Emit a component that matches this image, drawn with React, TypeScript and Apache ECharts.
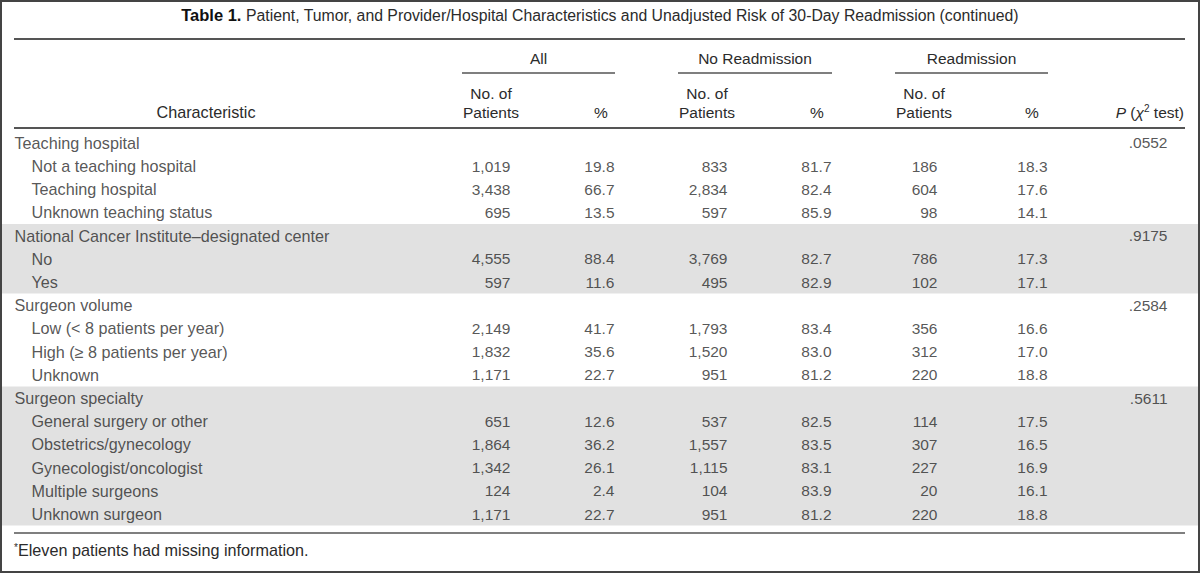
import React, { useEffect, useRef } from "react";
import * as echarts from "echarts";

const characteristics = [
  "Teaching hospital",
  "Not a teaching hospital",
  "Teaching hospital",
  "Unknown teaching status",
  "National Cancer Institute–designated center",
  "No",
  "Yes",
  "Surgeon volume",
  "Low (< 8 patients per year)",
  "High (≥ 8 patients per year)",
  "Unknown",
  "Surgeon specialty",
  "General surgery or other",
  "Obstetrics/gynecology",
  "Gynecologist/oncologist",
  "Multiple surgeons",
  "Unknown surgeon",
];
const isGroupRow = [1, 0, 0, 0, 1, 0, 0, 1, 0, 0, 0, 1, 0, 0, 0, 0, 0];
// shaded blocks: [first row, last row]
const shadedBlocks = [
  [4, 6],
  [11, 16],
];

const allPatients = [null, 1019, 3438, 695, null, 4555, 597, null, 2149, 1832, 1171, null, 651, 1864, 1342, 124, 1171];
const allPct = [null, 19.8, 66.7, 13.5, null, 88.4, 11.6, null, 41.7, 35.6, 22.7, null, 12.6, 36.2, 26.1, 2.4, 22.7];
const noReadmPatients = [null, 833, 2834, 597, null, 3769, 495, null, 1793, 1520, 951, null, 537, 1557, 1115, 104, 951];
const noReadmPct = [null, 81.7, 82.4, 85.9, null, 82.7, 82.9, null, 83.4, 83.0, 81.2, null, 82.5, 83.5, 83.1, 83.9, 81.2];
const readmPatients = [null, 186, 604, 98, null, 786, 102, null, 356, 312, 220, null, 114, 307, 227, 20, 220];
const readmPct = [null, 18.3, 17.6, 14.1, null, 17.3, 17.1, null, 16.6, 17.0, 18.8, null, 17.5, 16.5, 16.9, 16.1, 18.8];
const pValues = [0.0552, null, null, null, 0.9175, null, null, 0.2584, null, null, null, 0.5611, null, null, null, null, null];

const groupHeaders = ["All", "No Readmission", "Readmission"];
const titleBold = "Table 1.";
const titleText = "Patient, Tumor, and Provider/Hospital Characteristics and Unadjusted Risk of 30-Day Readmission (continued)";
const footnote = "Eleven patients had missing information.";

const FONT = "'Liberation Sans', Arial, sans-serif";
const FS = 15.5;
const FS_CHAR = 16.2;
const TXT = "#2b2b2b";
const RULE = "#555555";
const SHADE = "#e1e1e1";

const fmtInt = (v: number) => v.toLocaleString("en-US");
const fmtPct = (v: number) => v.toFixed(1);
const fmtP = (v: number) => v.toFixed(4).replace(/^0/, "");

export default function App() {
  const ref = useRef<HTMLDivElement>(null);
  useEffect(() => {
    if (!ref.current) return;
    const chart = echarts.init(ref.current, null, { renderer: "svg" });
    const W = 1200;
    const rowTop = 131.2;
    const rowH = 23.2;
    const n = characteristics.length;
    const L = 14;
    const R = 1185;

    const groupSpans = [
      [462, 615],
      [678, 832],
      [895, 1048],
    ];
    const patientCenters = [491, 707, 924];
    const pctCenters = [601, 817, 1032];

    const colRight = {
      allN: 511,
      allP: 615,
      noN: 728,
      noP: 832,
      reN: 938,
      reP: 1048,
      p: 1168,
    };

    const textSeries = (x: number, vals: (number | null)[], fmt: (v: number) => string) => ({
      type: "scatter",
      symbolSize: 1,
      itemStyle: { color: "rgba(0,0,0,0)" },
      silent: true,
      z: 5,
      data: vals
        .map((v, i) => (v === null ? null : [x, i, fmt(v)]))
        .filter((d) => d !== null),
      label: {
        show: true,
        position: "left",
        distance: 0,
        formatter: (p: any) => p.value[2],
        fontFamily: FONT,
        fontSize: FS,
        color: TXT,
      },
    });

    const charSeries = {
      type: "scatter",
      symbolSize: 1,
      itemStyle: { color: "rgba(0,0,0,0)" },
      silent: true,
      z: 5,
      data: characteristics.map((c, i) => [isGroupRow[i] ? L : 31, i, c]),
      label: {
        show: true,
        position: "right",
        distance: 0,
        formatter: (p: any) => p.value[2],
        fontFamily: FONT,
        fontSize: FS_CHAR,
        color: TXT,
      },
    };

    const bandSeries = {
      type: "custom",
      silent: true,
      z: 1,
      data: shadedBlocks,
      renderItem: (params: any, api: any) => {
        const a = api.value(0);
        const b = api.value(1);
        const h = api.size([0, 1])[1];
        const p0 = api.coord([0, a]);
        const p1 = api.coord([W, b]);
        return {
          type: "rect",
          shape: { x: p0[0], y: p0[1] - h / 2, width: p1[0] - p0[0], height: p1[1] - p0[1] + h },
          style: { fill: SHADE },
        };
      },
      encode: { x: -1, y: [0, 1] },
    };

    const graphic: any[] = [];
    graphic.push({
      type: "text",
      x: 600,
      y: 15,
      style: {
        text: `{b|${titleBold}} ${titleText}`,
        align: "center",
        verticalAlign: "middle",
        fontFamily: FONT,
        fontSize: 15.8,
        fill: TXT,
        rich: {
          b: { fontFamily: "'Liberation Sans Narrow', " + FONT, fontWeight: "bold", fontSize: 16.5, fill: "#111" },
        },
      },
    });
    graphic.push({ type: "line", shape: { x1: L, y1: 39, x2: R, y2: 39 }, style: { stroke: RULE, lineWidth: 2 } });
    groupHeaders.forEach((g, k) => {
      const [a, b] = groupSpans[k];
      graphic.push({
        type: "text",
        x: (a + b) / 2,
        y: 58,
        style: { text: g, align: "center", verticalAlign: "middle", fontFamily: FONT, fontSize: FS, fill: TXT },
      });
      graphic.push({ type: "line", shape: { x1: a, y1: 73, x2: b, y2: 73 }, style: { stroke: RULE, lineWidth: 1.5 } });
      graphic.push({
        type: "text",
        x: patientCenters[k],
        y: 102.5,
        style: {
          text: "No. of\nPatients",
          align: "center",
          verticalAlign: "middle",
          lineHeight: 19,
          fontFamily: FONT,
          fontSize: FS,
          fill: TXT,
        },
      });
      graphic.push({
        type: "text",
        x: pctCenters[k],
        y: 112,
        style: { text: "%", align: "center", verticalAlign: "middle", fontFamily: FONT, fontSize: FS, fill: TXT },
      });
    });
    graphic.push({
      type: "text",
      x: 206,
      y: 112,
      style: { text: "Characteristic", align: "center", verticalAlign: "middle", fontFamily: FONT, fontSize: FS_CHAR, fill: TXT },
    });
    graphic.push({
      type: "text",
      x: 1184,
      y: 112,
      style: {
        text: "{i|P} ({i|χ}{s|2} test)",
        align: "right",
        verticalAlign: "middle",
        fontFamily: FONT,
        fontSize: FS,
        fill: TXT,
        rich: {
          i: { fontStyle: "italic", fontFamily: FONT, fontSize: FS, fill: TXT },
          s: { fontSize: 10, fontFamily: FONT, fill: TXT, verticalAlign: "top", padding: [0, 0, 8, 0] },
        },
      },
    });
    graphic.push({ type: "line", shape: { x1: L, y1: 128, x2: R, y2: 128 }, style: { stroke: RULE, lineWidth: 2 } });
    graphic.push({ type: "line", shape: { x1: L, y1: 533, x2: R, y2: 533 }, style: { stroke: RULE, lineWidth: 1.5 } });
    graphic.push({
      type: "text",
      x: L,
      y: 550,
      style: {
        text: `{s|*}${footnote}`,
        align: "left",
        verticalAlign: "middle",
        fontFamily: FONT,
        fontSize: FS_CHAR,
        fill: TXT,
        rich: { s: { fontSize: 10, fontFamily: FONT, fill: TXT, padding: [0, 0, 6, 0] } },
      },
    });
    graphic.push({
      type: "rect",
      shape: { x: 1, y: 1, width: 1198, height: 571 },
      style: { fill: "none", stroke: "#444", lineWidth: 2 },
      z: 100,
    });

    chart.setOption({
      animation: false,
      backgroundColor: "#ffffff",
      grid: { left: 0, right: 0, top: rowTop, height: rowH * n },
      xAxis: { type: "value", min: 0, max: W, show: false },
      yAxis: {
        type: "category",
        inverse: true,
        show: false,
        data: characteristics.map((_, i) => i),
      },
      series: [
        bandSeries,
        charSeries,
        textSeries(colRight.allN, allPatients, fmtInt),
        textSeries(colRight.allP, allPct, fmtPct),
        textSeries(colRight.noN, noReadmPatients, fmtInt),
        textSeries(colRight.noP, noReadmPct, fmtPct),
        textSeries(colRight.reN, readmPatients, fmtInt),
        textSeries(colRight.reP, readmPct, fmtPct),
        textSeries(colRight.p, pValues, fmtP),
      ],
      graphic,
    });
    return () => chart.dispose();
  }, []);
  return (
    <div
      ref={ref}
      style={{ position: "absolute", left: 0, top: 0, width: 1200, height: 573, background: "#fff" }}
    />
  );
}
